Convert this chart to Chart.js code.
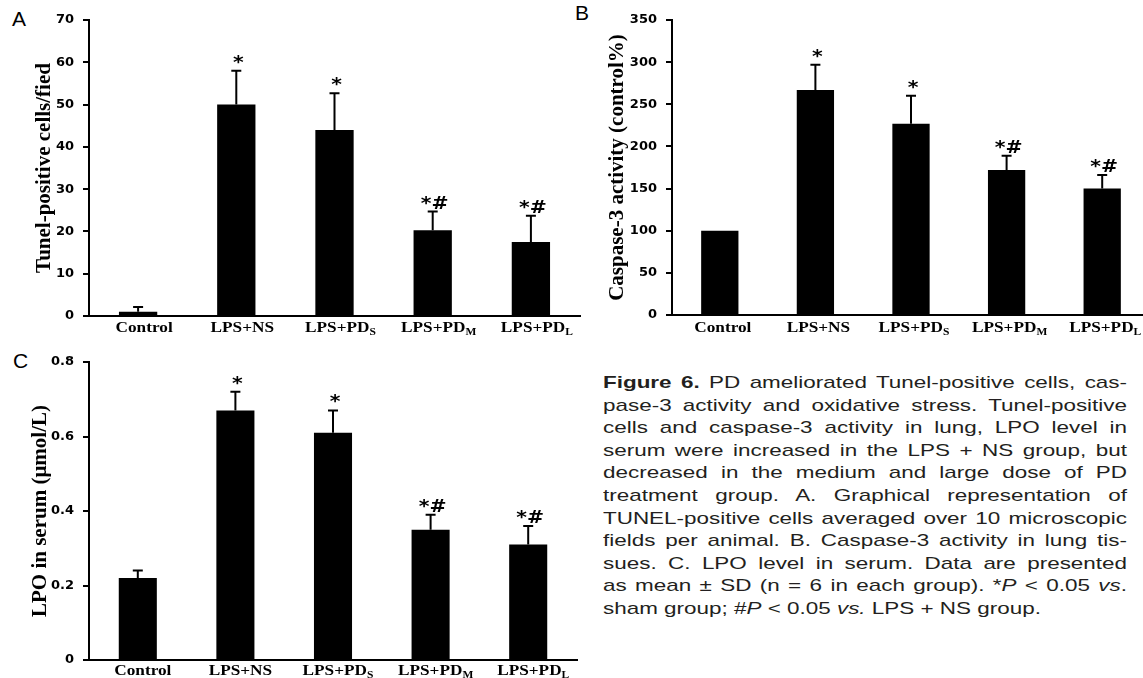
<!DOCTYPE html>
<html>
<head>
<meta charset="utf-8">
<script src="https://cdn.jsdelivr.net/npm/chart.js@4.4.0/dist/chart.umd.min.js"></script>
<style>
    html, body { margin: 0; padding: 0; background: #fff; overflow: hidden; }
    body { width: 1143px; height: 678px; position: relative; }
    .panel { position: absolute; }
    .letter { position: absolute; font-family: "Liberation Sans", Arial, sans-serif; font-size: 21px; color: #000; line-height: 23px; }
    /* the source figure is stretched sideways, so the caption is too */
    #caption { position: absolute; left: 603px; top: 372px; width: 397px; transform: scaleX(1.32); transform-origin: 0 0;
               font-family: "Liberation Sans", Arial, sans-serif; font-size: 17px; line-height: 22.6px; color: #231f20; }
    #caption div { text-align: justify; text-align-last: justify; white-space: nowrap; }
    #caption div.last { text-align-last: left; }
</style>
</head>
<body>
<div class="letter" style="left:12px; top:7px;">A</div>
<div class="letter" style="left:575px; top:1px;">B</div>
<div class="letter" style="left:13px; top:349px;">C</div>

<canvas id="chartA" class="panel" width="590" height="345" style="left:0; top:0;"></canvas>
<canvas id="chartB" class="panel" width="560" height="345" style="left:590px; top:0;"></canvas>
<canvas id="chartC" class="panel" width="590" height="338" style="left:0; top:340px;"></canvas>

<div id="caption">
    <div><b>Figure 6.</b> PD ameliorated Tunel-positive cells, cas-</div>
    <div>pase-3 activity and oxidative stress. Tunel-positive</div>
    <div>cells and caspase-3 activity in lung, LPO level in</div>
    <div>serum were increased in the LPS + NS group, but</div>
    <div>decreased in the medium and large dose of PD</div>
    <div>treatment group. A. Graphical representation of</div>
    <div>TUNEL-positive cells averaged over 10 microscopic</div>
    <div>fields per animal. B. Caspase-3 activity in lung tis-</div>
    <div>sues. C. LPO level in serum. Data are presented</div>
    <div>as mean ± SD (n = 6 in each group). *<i>P</i> &lt; 0.05 <i>vs</i>.</div>
    <div class="last">sham group; #<i>P</i> &lt; 0.05 <i>vs.</i> LPS + NS group.</div>
</div>

<script>
// groups on the x axis (main text + subscript)
const groupNames = ['Control', 'LPS+NS', 'LPS+PD', 'LPS+PD', 'LPS+PD'];
const groupSubs = ['', '', 'S', 'M', 'L'];
const sigMarks = ['', '*', '*', '*#', '*#'];

// A - Tunel-positive cells
const tunelMeans = [1.0, 50.0, 44.0, 20.3, 17.5];
const tunelSD = [1.1, 8.0, 8.7, 4.4, 6.2];
const tunelMax = 70;
const tunelStep = 10;

// B - caspase-3 activity
const casp3Means = [100, 267, 227, 172, 150];
const casp3SD = [0, 30, 33, 17, 16];
const casp3Max = 350;
const casp3Step = 50;

// C - LPO in serum
const lpoMeans = [0.22, 0.67, 0.61, 0.35, 0.31];
const lpoSD = [0.02, 0.05, 0.06, 0.04, 0.05];
const lpoMax = 0.8;
const lpoStep = 0.2;

const errorBarPlugin = {
    id: 'errorBars',
    afterDatasetsDraw(chart, args, opts) {
        const ctx = chart.ctx;
        const yScale = chart.scales.y;
        const values = chart.data.datasets[0].data;
        ctx.save();
        ctx.strokeStyle = '#000';
        ctx.fillStyle = '#000';
        ctx.lineWidth = 2;
        chart.getDatasetMeta(0).data.forEach((bar, i) => {
            let top = bar.y;
            if (opts.sd[i] > 0) {
                top = yScale.getPixelForValue(values[i] + opts.sd[i]);
                ctx.beginPath();
                ctx.moveTo(bar.x, bar.y);
                ctx.lineTo(bar.x, top);
                ctx.moveTo(bar.x - 5, top);
                ctx.lineTo(bar.x + 5, top);
                ctx.stroke();
            }
            if (opts.marks[i]) {
                // stretched a little sideways like the source
                ctx.save();
                ctx.translate(bar.x + 2, top - 3);
                ctx.scale(1.2, 1);
                ctx.font = 'bold 17px "DejaVu Sans"';
                ctx.textAlign = 'center';
                ctx.textBaseline = 'alphabetic';
                ctx.fillText(opts.marks[i], 0, 0);
                ctx.restore();
            }
        });
        ctx.restore();
    }
};

const groupLabelPlugin = {
    id: 'groupLabels',
    afterDraw(chart, args, opts) {
        const ctx = chart.ctx;
        const xScale = chart.scales.x;
        const yPos = chart.chartArea.bottom + opts.gap;
        const stretch = 1.15;
        const mainFont = 'bold 15px "Liberation Serif"';
        const subFont = 'bold 10px "Liberation Serif"';
        ctx.save();
        ctx.fillStyle = '#000';
        ctx.textBaseline = 'middle';
        ctx.textAlign = 'left';
        groupNames.forEach((name, i) => {
            const cx = xScale.getPixelForValue(i) + opts.shift;
            ctx.font = mainFont;
            const w1 = ctx.measureText(name).width;
            ctx.font = subFont;
            const w2 = groupSubs[i] ? ctx.measureText(groupSubs[i]).width : 0;
            const total = (w1 + w2) * stretch;
            ctx.save();
            ctx.translate(cx - total / 2, yPos);
            ctx.scale(stretch, 1);
            ctx.font = mainFont;
            ctx.fillText(name, 0, 0);
            if (groupSubs[i]) {
                ctx.font = subFont;
                ctx.fillText(groupSubs[i], w1, 4);
            }
            ctx.restore();
        });
        ctx.restore();
    }
};

function makeChart(id, p) {
    const ctx = document.getElementById(id).getContext('2d');
    return new Chart(ctx, {
        type: 'bar',
        data: {
            labels: groupNames.map((n, i) => n + groupSubs[i]),
            datasets: [{
                data: p.values,
                backgroundColor: '#000',
                borderWidth: 0,
                categoryPercentage: 1,
                barPercentage: 0.39
            }]
        },
        options: {
            responsive: false,
            animation: false,
            devicePixelRatio: 1,
            layout: { padding: p.padding },
            plugins: {
                legend: { display: false },
                tooltip: { enabled: false },
                errorBars: { sd: p.sd, marks: sigMarks },
                groupLabels: { gap: p.labelGap, shift: p.shift }
            },
            scales: {
                x: {
                    grid: { display: false },
                    border: { display: true, color: '#000', width: 2 },
                    ticks: { display: false },
                    afterFit: (s) => { s.height = p.xHeight; }
                },
                y: {
                    min: 0,
                    max: p.max,
                    ticks: {
                        stepSize: p.step,
                        color: '#000',
                        padding: 9,
                        font: { family: 'DejaVu Sans', weight: 'bold', size: 13 }
                    },
                    grid: {
                        display: true,
                        drawOnChartArea: false,
                        drawTicks: true,
                        tickLength: 6,
                        color: '#000',
                        lineWidth: 2
                    },
                    border: { display: true, color: '#000', width: 2 },
                    title: {
                        display: true,
                        text: p.title,
                        color: '#000',
                        padding: { top: p.titlePad, bottom: 0 },
                        font: { family: 'Liberation Serif', weight: 'bold', size: 21 }
                    },
                    afterFit: (s) => { s.width = p.yWidth; }
                }
            }
        },
        plugins: [errorBarPlugin, groupLabelPlugin]
    });
}

makeChart('chartA', {
    values: tunelMeans, sd: tunelSD, max: tunelMax, step: tunelStep,
    title: 'Tunel-positive cells/fied', titlePad: 32,
    yWidth: 89, xHeight: 29, padding: { top: 20, right: 10, left: 0, bottom: 0 },
    labelGap: 12, shift: 6
});

makeChart('chartB', {
    values: casp3Means, sd: casp3SD, max: casp3Max, step: casp3Step,
    title: 'Caspase-3 activity (control%)', titlePad: 15,
    yWidth: 82, xHeight: 30, padding: { top: 20, right: 0, left: 0, bottom: 0 },
    labelGap: 13, shift: 3
});

makeChart('chartC', {
    values: lpoMeans, sd: lpoSD, max: lpoMax, step: lpoStep,
    title: 'LPO in serum (μmol/L)', titlePad: 28,
    yWidth: 89, xHeight: 18, padding: { top: 22, right: 13, left: 0, bottom: 0 },
    labelGap: 11, shift: 5
});
</script>
</body>
</html>
